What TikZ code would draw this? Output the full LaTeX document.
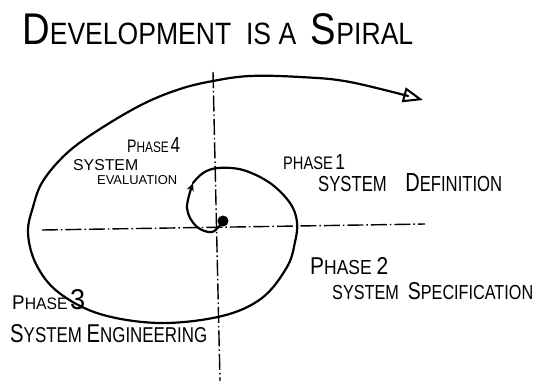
\documentclass[tikz,border=0pt]{standalone}
\usepackage{fontspec}
\setmainfont{Liberation Sans}
\usetikzlibrary{arrows.meta}
\newcommand\fitto[3]{\resizebox{#1}{#2}{#3}}
\begin{document}
\begin{tikzpicture}[x=1pt,y=-1pt,
  lbl/.style={inner sep=0pt,anchor=south west,font=\normalsize},
  axisline/.style={line width=1.4pt,dash pattern=on 16pt off 3pt on 1.5pt off 3pt},
  spiralline/.style={line width=2.2pt,line cap=round,line join=round}]
\useasboundingbox[fill=white] (0,0) rectangle (536,381);
% title
\node[lbl] (title) at (22,45) {\fitto{391pt}{31pt}{{\Large D}EVELOPMENT\ \ IS\ A\ \ {\Large S}PIRAL}};
% axes
\coordinate (vtop) at (213,72);
\coordinate (vbot) at (220,381);
\coordinate (hleft) at (42,230);
\coordinate (hright) at (425,224);
\draw[axisline] (vtop) -- (vbot);
\draw[axisline] (hleft) -- (hright);
% center dot
\coordinate (c) at (223,221);
\fill (c) circle (5.5pt);
% inner spiral with mid arrow
\coordinate (mid) at (193,183);
\draw[spiralline,-{Stealth[length=8pt,width=7pt]}] plot[smooth,tension=0.6] coordinates
  {(c) (212,232) (196,226) (187,208) (mid)};
\coordinate (tip) at (423,100);
\draw[spiralline,-{Triangle[open,length=20pt,width=15pt,line width=2pt]}] plot[smooth,tension=0.6] coordinates
  {(mid) (203,173) (218,168) (243,170) (270,183) (290,203) (297,222) (295,242) (287,267)
   (262,298) (222,316) (160,323) (100,314) (58,292) (36,264) (28,233) (33,207) (43,181)
   (67,153) (100,129) (143,104) (180,89) (213,81) (250,76) (300,77) (350,82) (tip)};
% labels
\node[lbl] (p4) at (127,153) {\fitto{53pt}{15pt}{{\large P}HASE\,{\Large 4}}};
\node[lbl] (s4) at (73,171) {\fitto{65pt}{11pt}{SYSTEM}};
\node[lbl] (e4) at (97,185) {\fitto{80pt}{9pt}{EVALUATION}};
\node[lbl] (p1) at (283,170) {\fitto{62pt}{15pt}{PHASE\,{\large 1}}};
\node[lbl] (s1) at (318,192) {\fitto{184pt}{18pt}{SYSTEM\ \ \ \ {\large D}EFINITION}};
\node[lbl] (p2) at (310,275) {\fitto{78pt}{17pt}{{\large P}HASE\ {\large 2}}};
\node[lbl] (s2) at (332,300) {\fitto{201pt}{17pt}{SYSTEM\ \ {\large S}PECIFICATION}};
\node[lbl] (p3) at (12,310) {\fitto{73pt}{20pt}{{\large P}HASE\,{\LARGE 3}}};
\node[lbl] (s3) at (10,343) {\fitto{197pt}{18pt}{{\large S}YSTEM\ {\large E}NGINEERING}};
\end{tikzpicture}
\end{document}
